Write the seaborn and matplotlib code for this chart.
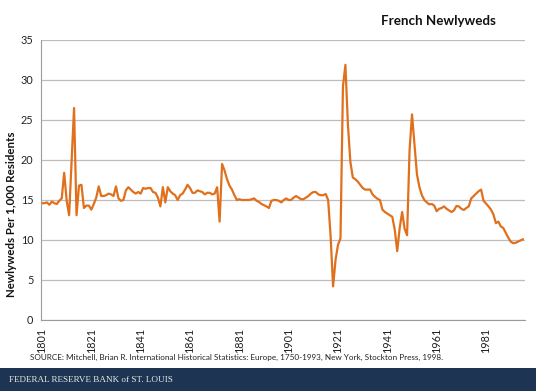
import matplotlib
matplotlib.use("Agg")
import matplotlib.pyplot as plt
import numpy as np
import pandas as pd
import seaborn as sns

# newlyweds per 1,000 residents, one value per year
years = list(range(1801, 1997))
newlyweds = [
    14.6, 14.6, 14.7, 14.4, 14.8, 14.6, 14.5, 14.9, 15.2, 18.4,   # 1801-1810
    14.9, 13.1, 19.9, 26.5, 13.1, 16.8, 16.9, 14.0, 14.3, 14.3,   # 1811-1820
    13.8, 14.5, 15.3, 16.7, 15.5, 15.5, 15.6, 15.8, 15.7, 15.5,   # 1821-1830
    16.7, 15.2, 14.9, 15.0, 16.2, 16.6, 16.3, 16.0, 15.8, 16.0,   # 1831-1840
    15.8, 16.5, 16.4, 16.5, 16.5, 16.0, 15.9, 15.3, 14.2, 16.6,   # 1841-1850
    14.7, 16.6, 16.1, 15.8, 15.6, 15.0, 15.6, 15.8, 16.3, 16.9,   # 1851-1860
    16.5, 15.9, 15.9, 16.2, 16.1, 16.0, 15.7, 15.9, 15.9, 15.7,   # 1861-1870
    15.8, 16.6, 12.3, 19.5, 18.7, 17.6, 16.8, 16.3, 15.6, 15.0,   # 1871-1880
    15.1, 15.0, 15.0, 15.0, 15.0, 15.1, 15.2, 14.9, 14.75, 14.5,  # 1881-1890
    14.35, 14.2, 14.0, 14.9, 15.0, 15.0, 14.9, 14.7, 15.0, 15.2,  # 1891-1900
    15.0, 15.0, 15.3, 15.5, 15.3, 15.1, 15.1, 15.3, 15.5, 15.8,   # 1901-1910
    16.0, 16.0, 15.7, 15.6, 15.6, 15.75, 15.0, 10.5, 4.2, 7.5,    # 1911-1920
    9.4, 10.2, 29.2, 31.9, 24.5, 19.8, 17.8, 17.6, 17.3, 16.9,    # 1921-1930
    16.5, 16.3, 16.3, 16.3, 15.7, 15.4, 15.15, 15.0, 13.8, 13.5,  # 1931-1940
    13.3, 13.1, 12.9, 11.3, 8.6, 11.5, 13.5, 11.4, 10.6, 21.2,    # 1941-1950
    25.7, 22.0, 18.2, 16.6, 15.6, 15.0, 14.7, 14.45, 14.5, 14.3,  # 1951-1960
    13.6, 13.9, 14.0, 14.2, 13.9, 13.7, 13.5, 13.7, 14.25, 14.2,  # 1961-1970
    13.9, 13.75, 14.0, 14.2, 15.2, 15.5, 15.8, 16.1, 16.3, 14.9,  # 1971-1980
    14.55, 14.2, 13.8, 13.2, 12.1, 12.3, 11.7, 11.5, 10.9, 10.3,  # 1981-1990
    9.8, 9.6, 9.65, 9.8, 9.95, 10.1,                              # 1991-1996
]
tick_years = list(range(1801, 1982, 20))
y_ticks = list(range(0, 36, 5))

title = "French Newlyweds"
y_label = "Newlyweds Per 1,000 Residents"
source = ("SOURCE: Mitchell, Brian R. International Historical Statistics: Europe, "
          "1750-1993, New York, Stockton Press, 1998.")
footer = "FEDERAL RESERVE BANK of ST. LOUIS"

LINE_COLOR = "#e0701c"
GRID_COLOR = "#bdbdbd"
NAVY = "#1d3552"

df = pd.DataFrame({"year": years, "value": newlyweds})

sns.set_style("white")
plt.rcParams["font.family"] = ["Lato", "DejaVu Sans"]

fig = plt.figure(figsize=(5.36, 3.91), dpi=100)
ax = fig.add_axes([41 / 536, 1 - 320 / 391, 484 / 536, 280 / 391])

sns.lineplot(data=df, x="year", y="value", ax=ax, color=LINE_COLOR, linewidth=1.6)

ax.set_xlim(1800.6, 1996.8)
ax.set_ylim(0, 35)
ax.set_xticks(tick_years)
ax.set_xticklabels([str(t) for t in tick_years], rotation=90, fontsize=7.8, color="#222222")
ax.set_yticks(y_ticks)
ax.set_yticklabels([str(t) for t in y_ticks], fontsize=7.8, color="#222222")
ax.yaxis.grid(True, color=GRID_COLOR, linewidth=0.9)
ax.xaxis.grid(False)
ax.tick_params(axis="both", direction="out", length=3.5, width=0.8, color="#9a9a9a", pad=2)
ax.set_xlabel("")
ax.set_ylabel("")

for side in ["top", "right"]:
    ax.spines[side].set_visible(False)
for side in ["left", "bottom"]:
    ax.spines[side].set_color("#9a9a9a")
    ax.spines[side].set_linewidth(0.8)

fig.text(438 / 536, 1 - 21 / 391, title, fontsize=9.6, fontweight="bold",
         ha="center", va="center", color="#111111")
fig.text(12 / 536, 1 - 214 / 391, y_label, fontsize=8.3, fontweight="bold",
         rotation=90, ha="center", va="center", rotation_mode="anchor", color="#111111")
fig.text(30 / 536, 1 - 357 / 391, source, fontsize=5.9, ha="left", va="center",
         color="#222222")

# footer band
fig.patches.append(plt.Rectangle((0, 0), 1, 23 / 391, transform=fig.transFigure,
                                 facecolor=NAVY, edgecolor="none", zorder=0))
fig.text(9 / 536, 11.5 / 391, footer, fontsize=6.6, ha="left", va="center",
         color="#e8e8e8", family=["Liberation Serif", "DejaVu Serif"])

fig.savefig("out.png", dpi=100)
